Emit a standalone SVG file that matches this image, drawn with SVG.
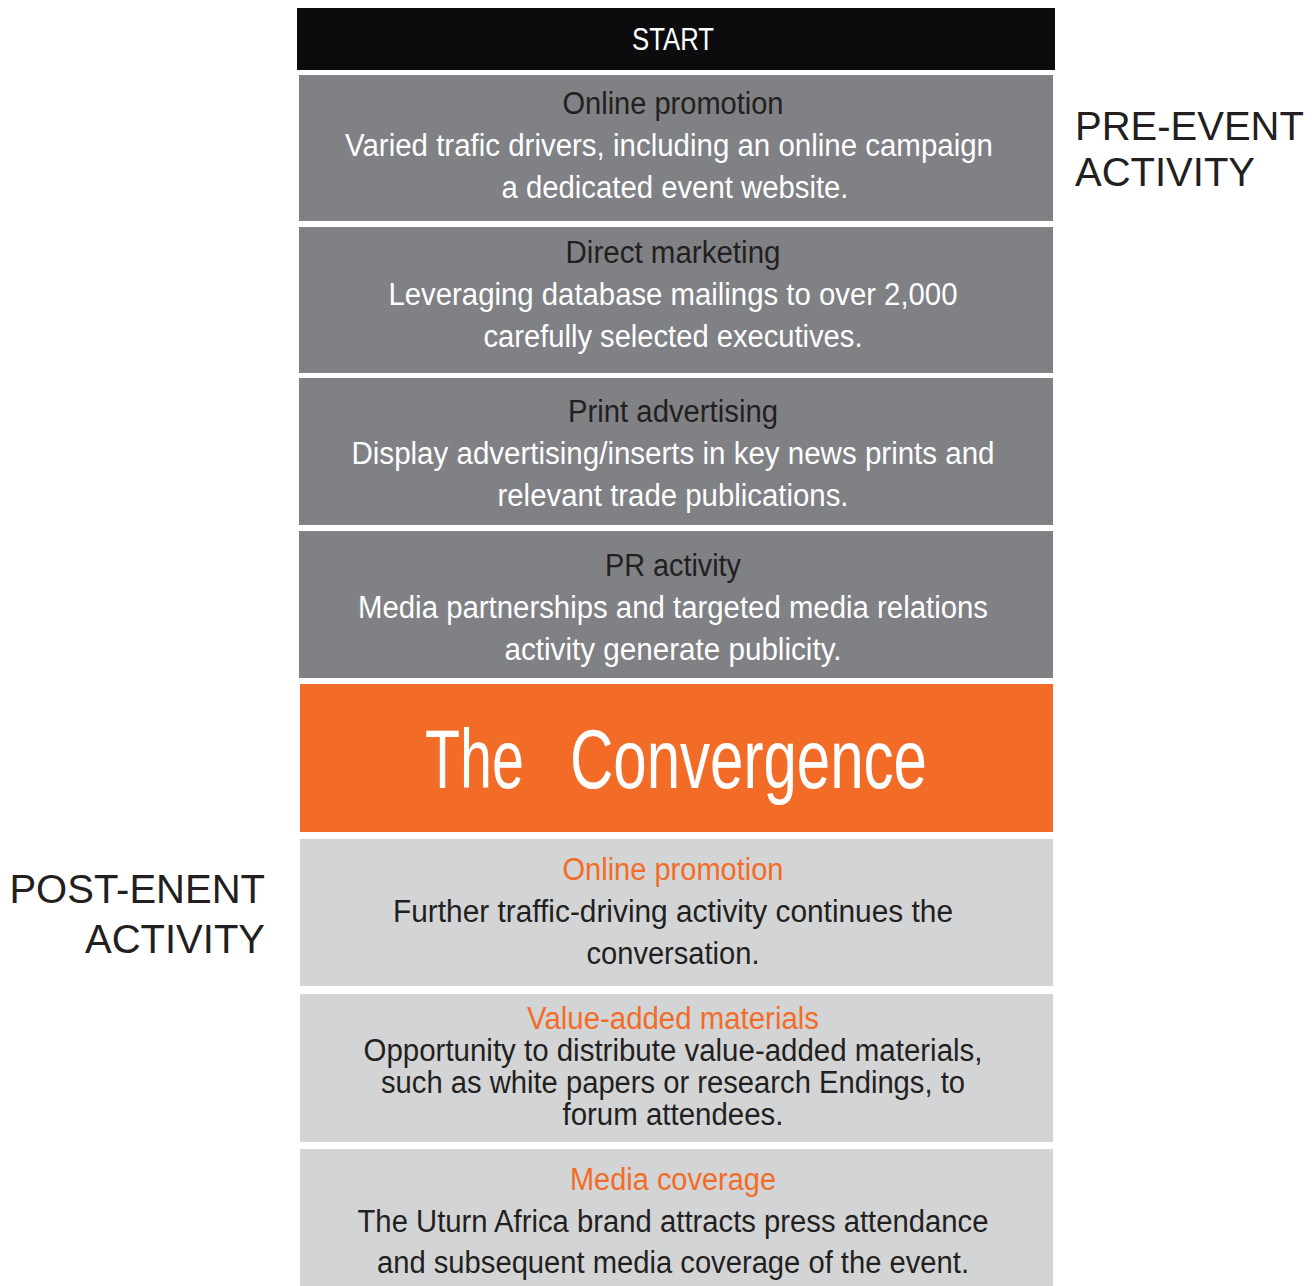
<svg xmlns="http://www.w3.org/2000/svg" width="1312" height="1286" viewBox="0 0 1312 1286">
<style>
.bg{fill:#ffffff}
.start{fill:#0c0c0f}
.pre{fill:#808185}
.conv{fill:#f26c27}
.post{fill:#d3d4d6}
text{font-family:"Liberation Sans","DejaVu Sans",sans-serif;text-anchor:middle}
.t{font-size:31px}
.w{fill:#ffffff}
.d{fill:#231f20}
.o{fill:#f26c27}
.side{font-size:40px;fill:#231f20}
.big{font-size:84px;fill:#ffffff;text-anchor:start}
</style>
<rect class="bg" x="0" y="0" width="1312" height="1286"/>
<g id="start">
<rect class="start" x="297" y="8" width="758" height="62"/>
<text class="t w" x="673" y="50" textLength="82" lengthAdjust="spacingAndGlyphs">START</text>
</g>
<g id="pre-online">
<rect class="pre" x="299" y="75" width="754" height="146"/>
<text class="t d" x="673" y="114" textLength="221" lengthAdjust="spacingAndGlyphs">Online promotion</text>
<text class="t w" x="669" y="156" textLength="648" lengthAdjust="spacingAndGlyphs">Varied trafic drivers, including an online campaign</text>
<text class="t w" x="675" y="198" textLength="347" lengthAdjust="spacingAndGlyphs">a dedicated event website.</text>
</g>
<g id="pre-direct">
<rect class="pre" x="299" y="227" width="754" height="146"/>
<text class="t d" x="673" y="263" textLength="215" lengthAdjust="spacingAndGlyphs">Direct marketing</text>
<text class="t w" x="673" y="305" textLength="569" lengthAdjust="spacingAndGlyphs">Leveraging database mailings to over 2,000</text>
<text class="t w" x="673" y="347" textLength="379" lengthAdjust="spacingAndGlyphs">carefully selected executives.</text>
</g>
<g id="pre-print">
<rect class="pre" x="299" y="378" width="754" height="147"/>
<text class="t d" x="673" y="422" textLength="210" lengthAdjust="spacingAndGlyphs">Print advertising</text>
<text class="t w" x="673" y="464" textLength="643" lengthAdjust="spacingAndGlyphs">Display advertising/inserts in key news prints and</text>
<text class="t w" x="673" y="506" textLength="351" lengthAdjust="spacingAndGlyphs">relevant trade publications.</text>
</g>
<g id="pre-pr">
<rect class="pre" x="299" y="531" width="754" height="147"/>
<text class="t d" x="673" y="576" textLength="136" lengthAdjust="spacingAndGlyphs">PR activity</text>
<text class="t w" x="673" y="618" textLength="630" lengthAdjust="spacingAndGlyphs">Media partnerships and targeted media relations</text>
<text class="t w" x="673" y="660" textLength="337" lengthAdjust="spacingAndGlyphs">activity generate publicity.</text>
</g>
<g id="convergence">
<rect class="conv" x="300" y="684" width="753" height="148"/>
<text class="big" y="788"><tspan x="425" textLength="99" lengthAdjust="spacingAndGlyphs">The</tspan> <tspan x="570" textLength="357" lengthAdjust="spacingAndGlyphs">Convergence</tspan></text>
</g>
<g id="post-online">
<rect class="post" x="300" y="839" width="753" height="147"/>
<text class="t o" x="673" y="880" textLength="221" lengthAdjust="spacingAndGlyphs">Online promotion</text>
<text class="t d" x="673" y="922" textLength="560" lengthAdjust="spacingAndGlyphs">Further traffic-driving activity continues the</text>
<text class="t d" x="673" y="964" textLength="173" lengthAdjust="spacingAndGlyphs">conversation.</text>
</g>
<g id="post-materials">
<rect class="post" x="300" y="994" width="753" height="148"/>
<text class="t o" x="673" y="1029" textLength="292" lengthAdjust="spacingAndGlyphs">Value-added materials</text>
<text class="t d" x="673" y="1061" textLength="619" lengthAdjust="spacingAndGlyphs">Opportunity to distribute value-added materials,</text>
<text class="t d" x="673" y="1093" textLength="584" lengthAdjust="spacingAndGlyphs">such as white papers or research Endings, to</text>
<text class="t d" x="673" y="1125" textLength="221" lengthAdjust="spacingAndGlyphs">forum attendees.</text>
</g>
<g id="post-media">
<rect class="post" x="300" y="1149" width="753" height="137"/>
<text class="t o" x="673" y="1190" textLength="206" lengthAdjust="spacingAndGlyphs">Media coverage</text>
<text class="t d" x="673" y="1232" textLength="631" lengthAdjust="spacingAndGlyphs">The Uturn Africa brand attracts press attendance</text>
<text class="t d" x="673" y="1273" textLength="592" lengthAdjust="spacingAndGlyphs">and subsequent media coverage of the event.</text>
</g>
<g id="label-pre">
<text class="side" x="1075" y="140" style="text-anchor:start">PRE-EVENT</text>
<text class="side" x="1075" y="186" style="text-anchor:start">ACTIVITY</text>
</g>
<g id="label-post">
<text class="side" x="265" y="903" style="text-anchor:end">POST-ENENT</text>
<text class="side" x="265" y="953" style="text-anchor:end">ACTIVITY</text>
</g>
<g id="connectors"></g>
</svg>
